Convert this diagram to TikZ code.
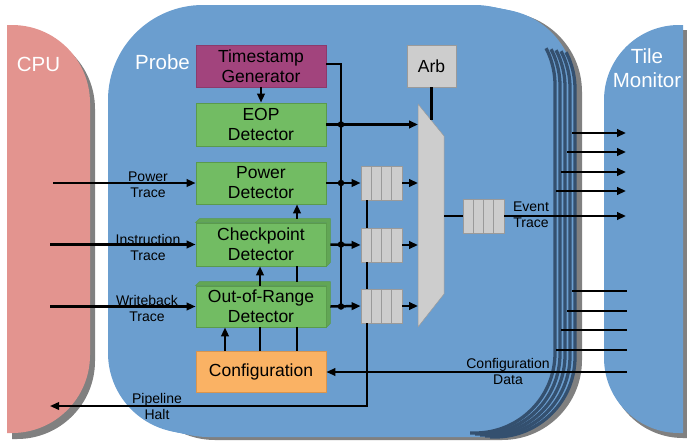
\documentclass[tikz,border=0pt]{standalone}
\usepackage{fontspec}
\setmainfont{Liberation Sans}
\usetikzlibrary{arrows.meta,calc}

\definecolor{cpupink}{HTML}{E3948F}
\definecolor{probeblue}{HTML}{6B9ECF}
\definecolor{stackdark}{HTML}{34506F}
\definecolor{shadowgray}{HTML}{808080}
\definecolor{tspurple}{HTML}{A2447D}
\definecolor{tsborder}{HTML}{8C3A6C}
\definecolor{detgreen}{HTML}{72BC63}
\definecolor{detborder}{HTML}{5A9A4C}
\definecolor{sidegreen}{HTML}{62A655}
\definecolor{cfgorange}{HTML}{FAB264}
\definecolor{cfgborder}{HTML}{D8954F}
\definecolor{unitgray}{HTML}{CDCDCD}
\definecolor{unitborder}{HTML}{9A9A9A}

\newcommand{\mainsize}{\fontsize{17.5}{20}\selectfont}
\newcommand{\labelsize}{\fontsize{14}{16}\selectfont}
\newcommand{\titlesize}{\fontsize{20.5}{24}\selectfont}

\begin{document}
\begin{tikzpicture}[x=1pt,y=-1pt,
  blk/.style={minimum width=130pt, minimum height=42pt, align=center,
    font=\mainsize, inner sep=0pt, line width=0.8pt},
  tsbox/.style={blk, fill=tspurple, draw=tsborder},
  detbox/.style={blk, fill=detgreen, draw=detborder},
  cfgbox/.style={blk, fill=cfgorange, draw=cfgborder},
  arbbox/.style={fill=unitgray, draw=unitborder, line width=0.8pt,
    minimum width=49pt, minimum height=42pt, inner sep=0pt, font=\mainsize},
  fifobox/.style={fill=unitgray, draw=unitborder, line width=0.8pt,
    minimum width=41pt, minimum height=34pt, inner sep=0pt},
  cellline/.style={draw=unitborder, line width=1pt},
  conn/.style={line width=2.5pt, draw=black},
  thinconn/.style={line width=2pt, draw=black},
  tip/.style={-{Triangle[length=9pt,width=7.5pt]}},
  junction/.style={circle, fill=black, inner sep=0pt, minimum size=6.5pt},
  lbl/.style={font=\labelsize, align=center, inner sep=0pt},
  title/.style={font=\titlesize, text=white, align=center, inner sep=0pt},
  cpushape/.style={insert path={(7,25) -- (12,25)
    .. controls (55.1,25) and (90,59.9) .. (90,103) -- (90,355)
    .. controls (90,398.1) and (55.1,433) .. (12,433) -- (7,433) -- cycle}},
  tmshape/.style={insert path={(683,25) -- (683,433) -- (679,433)
    .. controls (637.6,433) and (604,399.4) .. (604,358) -- (604,100)
    .. controls (604,58.6) and (637.6,25) .. (679,25) -- cycle}},
  probeshape/.style={insert path={(108,100)
    .. controls (108,47.5) and (150.5,5) .. (203,5) -- (475,5)
    .. controls (519.2,5) and (555,40.8) .. (555,85) -- (555,353)
    .. controls (555,397.2) and (519.2,433) .. (475,433) -- (188,433)
    .. controls (143.8,433) and (108,397.2) .. (108,353) -- cycle}},
  proberight/.style={insert path={(475,5)
    .. controls (519.2,5) and (555,40.8) .. (555,85) -- (555,353)
    .. controls (555,397.2) and (519.2,433) .. (475,433) -- (470,433)}},
  stackline/.style={draw=stackdark, line width=3.3pt}
]
\useasboundingbox (0,0) rectangle (687,442);

% ---- CPU ----
\begin{scope}[shift={(5,6)}]
  \fill[shadowgray, cpushape];
\end{scope}
\fill[cpupink, cpushape];

% ---- Tile monitor ----
\begin{scope}[shift={(4,5)}]
  \fill[shadowgray, tmshape];
\end{scope}
\fill[probeblue, tmshape];

% ---- Probe: a stack of copies, back to front ----
\begin{scope}[shift={(27,7)}]
  \fill[shadowgray, probeshape];
\end{scope}
\foreach \k in {4,3,2,1,0}{
  \begin{scope}[shift={(5*\k,\k)}]
    \fill[probeblue, probeshape];
    \begin{scope}
      \clip (470,88) -- (600,20) -- (687,20) -- (687,442) -- (470,442) -- cycle;
      \draw[stackline, proberight];
    \end{scope}
  \end{scope}
}

% ---- titles ----
\node[title] (cpuT) at (38.5,64) {CPU};
\node[title] (prT) at (162.5,62) {Probe};
\node[title] (tmT) at (647,68) {Tile\\Monitor};

% ---- blocks ----
\node[tsbox]  (ts)  at (261,66)    {Timestamp\\Generator};
\node[detbox, minimum height=43pt] (eop) at (261,124.5) {EOP\\Detector};
\node[detbox] (pwr) at (261,183)   {Power\\Detector};
\node[detbox, minimum height=43pt] (cp)  at (261,244.5) {Checkpoint\\Detector};
\node[detbox, minimum height=41pt] (oor) at (261,306.5) {Out-of-Range\\Detector};
\node[cfgbox, minimum height=41pt] (cfg) at (261,371.5) {Configuration};
\node[arbbox] (arb) at (431.5,66) {Arb};

% raised edges of the two deeper detectors
\foreach \n in {cp,oor}{
  \fill[sidegreen, draw=detborder, line width=0.6pt]
    (\n.north west) -- ++(4,-4) -- ([shift={(4,-4)}]\n.north east)
    -- ([shift={(4,-4)}]\n.south east) -- (\n.south east)
    -- (\n.north east) -- cycle;
}

% FIFOs
\node[fifobox] (f1) at (381.5,183) {};
\node[fifobox] (f2) at (381.5,245) {};
\node[fifobox] (f3) at (381.5,306) {};
\node[fifobox] (fo) at (483.5,216) {};
\foreach \f in {f1,f2,f3,fo}{
  \foreach \t in {0.25,0.5,0.75}{
    \draw[cellline] ($(\f.north west)!\t!(\f.north east)$)
      -- ($(\f.south west)!\t!(\f.south east)$);
  }
}

% multiplexer
\fill[unitgray, draw=unitborder, line width=0.5pt]
  (418,104) -- (444,136) -- (444,294) -- (418,327) -- cycle;
\coordinate (m1) at (418,124.5);
\coordinate (m2) at (418,183);
\coordinate (m3) at (418,245);
\coordinate (m4) at (418,306);
\coordinate (mo) at (444,216);
\coordinate (ms) at (431.5,120);

% ---- connectors inside the probe ----
\coordinate (bus) at (341,0);
\coordinate (chain) at (367,0);

\draw[conn] ([yshift=2]ts.east) -| (bus |- oor.east);
\draw[conn, tip] (ts.south) -- (eop.north);
\draw[conn, tip] (eop.east) -- (m1);
\draw[conn, tip] (pwr.east) -- (f1.west);
\draw[conn, tip] ([xshift=4]cp.east) -- (f2.west);
\draw[conn, tip] ([xshift=4]oor.east) -- (f3.west);
\draw[conn, tip] (f1.east) -- (m2);
\draw[conn, tip] (f2.east) -- (m3);
\draw[conn, tip] (f3.east) -- (m4);
\node[junction] (j1) at (bus |- eop.east) {};
\node[junction] (j2) at (bus |- pwr.east) {};
\node[junction] (j3) at (bus |- cp.east) {};
\node[junction] (j4) at (bus |- oor.east) {};

\draw[conn] (arb.south) -- (ms);
\draw[conn] (mo) -- (fo.west);

\draw[conn] (f1.south -| chain) -- (f2.north -| chain);
\draw[conn] (f2.south -| chain) -- (f3.north -| chain);
\coordinate (haltturn) at (367,406);
\coordinate (halt) at (50,406);
\draw[thinconn, tip] (f3.south -| chain) -- (haltturn) -- (halt);

% configuration fan-out
\draw[conn, tip] ([xshift=-36]cfg.north) -- ([xshift=-36]oor.south);
\draw[conn] ([xshift=-1]cfg.north) -- ([xshift=-1]oor.south);
\draw[conn, tip] ([xshift=-1]oor.north) -- ([xshift=-1]cp.south);
\draw[conn] ([xshift=36]cfg.north) -- ([xshift=36]oor.south);
\draw[conn] ([xshift=36,yshift=4]oor.north) -- ([xshift=36]cp.south);
\draw[conn, tip] ([xshift=36,yshift=4]cp.north) -- ([xshift=36]pwr.south);

% ---- traces from the CPU ----
\coordinate (cpuP) at (53,183);
\coordinate (cpuI) at (50,244.5);
\coordinate (cpuW) at (50,306.5);
\draw[conn, tip] (cpuP) -- (pwr.west);
\draw[conn, tip] (cpuI) -- (cp.west);
\draw[conn, tip] (cpuW) -- (oor.west);

% ---- links to the tile monitor ----
\coordinate (evt) at (626,216);
\draw[conn, tip] (fo.east) -- (evt);
\foreach \y/\x in {133/572,152/567,172/561,191/556}{
  \coordinate (so\y) at (\x,\y);
  \coordinate (eo\y) at (626,\y);
  \draw[conn, tip] (so\y) -- (eo\y);
}
\foreach \y/\x in {291/572,311/567,330/561,350/556}{
  \coordinate (si\y) at (\x,\y);
  \coordinate (ei\y) at (627,\y);
  \draw[conn] (si\y) -- (ei\y);
}
\coordinate (cfgsrc) at (627,372);
\draw[thinconn, tip] (cfgsrc) -- (cfgsrc -| cfg.east);

% ---- labels ----
\node[lbl] (lP) at (148,185) {Power\\Trace};
\node[lbl] (lI) at (148,247) {Instruction\\Trace};
\node[lbl] (lW) at (147,308.5) {Writeback\\Trace};
\node[lbl] (lH) at (157,406) {Pipeline\\Halt};
\node[lbl] (lC) at (508,371) {Configuration\\Data};
\node[lbl] (lE) at (531,215) {Event\\Trace};
\end{tikzpicture}
\end{document}
